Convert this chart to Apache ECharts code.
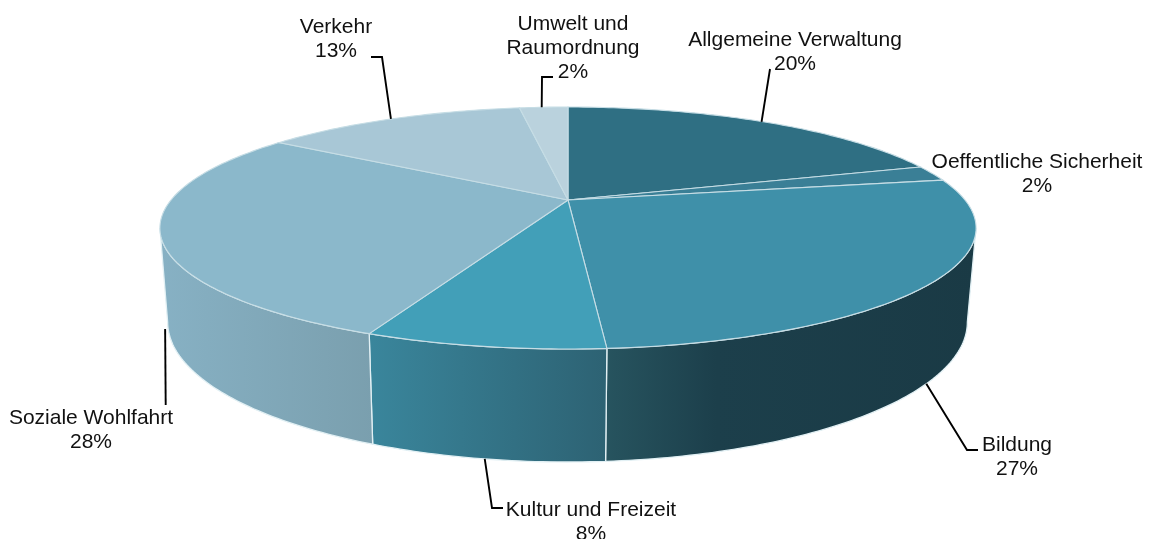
<!DOCTYPE html>
<html>
<head>
<meta charset="utf-8">
<style>
  html, body { margin: 0; padding: 0; background: #fff; }
  #chart { width: 1159px; height: 539px; }
</style>
<script src="https://cdn.jsdelivr.net/npm/echarts@6/dist/echarts.min.js"></script>
</head>
<body>
<div id="chart"></div>
<script>
const categories = ['Allgemeine Verwaltung', 'Oeffentliche Sicherheit', 'Bildung', 'Kultur und Freizeit', 'Soziale Wohlfahrt', 'Verkehr', 'Umwelt und\nRaumordnung'];
const shares = [20.0, 2.1, 26.7, 7.65, 28.15, 13.0, 2.4];
const percentLabels = ['20%', '2%', '27%', '8%', '28%', '13%', '2%'];

const topColors = ['#2f6f83', '#3a7f96', '#3f90a9', '#429fb8', '#8bb8cb', '#a8c7d6', '#bad2dd'];
const wallColors = [
  ['#2f6f83', '#2f6f83'],
  ['#2f6f83', '#2f6f83'],
  ['#27545f', '#1c3f4b', '#1a3a45'],
  ['#3a869c', '#2d6273'],
  ['#87b1c4', '#7a9fae'],
  ['#a8c7d6', '#a8c7d6'],
  ['#bad2dd', '#bad2dd'],
];

// perspective of the disc: same tilt for both faces
const TILT = 0.2314;
const topFace = { cx: 568, cy: 200, a: 397, b: 114.5 };
const bottomFace = { cx: 567.5, cy: 289.6, a: 389, b: 132.5 };

// label centres and leader bends, leaders start on the rim at the slice middle
const labelPos = [[795, 52], [1037, 174], [1017, 457], [591, 522], [91, 430], [336, 39], [573, 48]];
const leaders = [
  { face: topFace, dx: -3, bends: [[770, 69]] },
  null,
  { face: bottomFace, dx: 0, bends: [[967, 450], [978, 450]] },
  { face: bottomFace, dx: 0, bends: [[492, 508], [503, 508]] },
  { face: bottomFace, dx: -3, bends: [[165.7, 405]] },
  { face: topFace, dx: -1, bends: [[382, 57], [371, 57]] },
  { face: topFace, dx: -2, bends: [[542, 77], [553, 77]] },
];

const total = shares.reduce((s, v) => s + v, 0);
const starts = [];
shares.reduce((s, v, i) => {
  starts[i] = s;
  return s + v;
}, 0);

// the wall shows only between the two side extremes of the rim
const wallFrom = (Math.acos(-TILT) / (Math.PI * 2)) * total;
const wallTo = total - wallFrom;

function project(face, share) {
  const t = (share / total) * Math.PI * 2;
  const u = Math.sin(t);
  const v = -Math.cos(t);
  const w = 1 - TILT * v;
  return [face.cx + (face.a * u) / w, face.cy + (face.b * v) / w];
}

function arc(face, from, to) {
  const n = Math.max(2, Math.ceil((to - from) * 4));
  const pts = [];
  for (let i = 0; i <= n; i++) {
    pts.push(project(face, from + ((to - from) * i) / n));
  }
  return pts;
}

const chart = echarts.init(document.getElementById('chart'), null, { renderer: 'canvas' });
const rows = categories.map((c, i) => [i]);

chart.setOption({
  animation: false,
  series: [
    {
      type: 'custom',
      coordinateSystem: 'none',
      silent: true,
      z: 1,
      data: rows,
      renderItem(params) {
        const i = params.dataIndex;
        const from = Math.max(starts[i], wallFrom);
        const to = Math.min(starts[i] + shares[i], wallTo);
        if (to <= from) {
          return null;
        }
        const points = arc(topFace, from, to).concat(arc(bottomFace, from, to).reverse());
        const stops = wallColors[i].map((color, j, all) => ({
          offset: all.length === 3 ? [0, 0.3, 1][j] : j / (all.length - 1),
          color,
        }));
        return {
          type: 'polygon',
          shape: { points },
          style: {
            fill: new echarts.graphic.LinearGradient(0, 0, 1, 0, stops),
            stroke: '#e2f0f4',
            lineWidth: 1.3,
          },
        };
      },
    },
    {
      type: 'custom',
      coordinateSystem: 'none',
      silent: true,
      z: 2,
      data: rows,
      renderItem(params) {
        const i = params.dataIndex;
        const from = starts[i];
        const points = [[topFace.cx, topFace.cy]].concat(arc(topFace, from, from + shares[i]));
        return {
          type: 'polygon',
          shape: { points },
          style: { fill: topColors[i], stroke: '#c6dde5', lineWidth: 1.1 },
        };
      },
    },
    {
      type: 'custom',
      coordinateSystem: 'none',
      silent: true,
      z: 3,
      data: rows,
      renderItem(params) {
        const i = params.dataIndex;
        const children = [
          {
            type: 'text',
            style: {
              x: labelPos[i][0],
              y: labelPos[i][1],
              text: categories[i] + '\n' + percentLabels[i],
              fill: '#111',
              font: '21px "Liberation Sans", Arial, sans-serif',
              lineHeight: 24,
              align: 'center',
              verticalAlign: 'middle',
            },
          },
        ];
        const leader = leaders[i];
        if (leader) {
          const start = project(leader.face, starts[i] + shares[i] / 2);
          start[0] += leader.dx;
          children.push({
            type: 'polyline',
            shape: { points: [start].concat(leader.bends) },
            style: { stroke: '#000', lineWidth: 1.9, fill: 'none' },
          });
        }
        return { type: 'group', children };
      },
    },
  ],
});
</script>
</body>
</html>
